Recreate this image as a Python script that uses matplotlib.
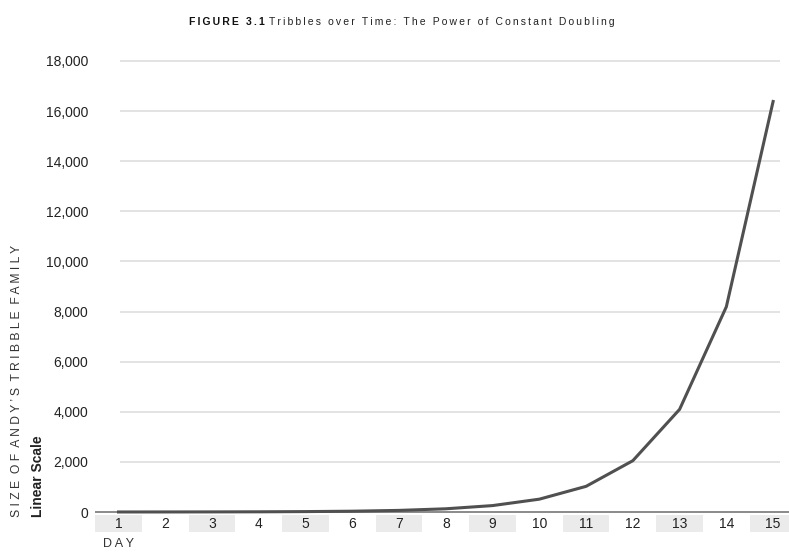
import matplotlib
matplotlib.use("Agg")
import matplotlib.pyplot as plt
import matplotlib.transforms as mtransforms
from matplotlib.patches import Rectangle

# tribbles doubling each day
days = [1, 2, 3, 4, 5, 6, 7, 8, 9, 10, 11, 12, 13, 14, 15]
tribbles = [1, 2, 4, 8, 16, 32, 64, 128, 256, 512, 1024, 2048, 4096, 8192, 16384]
yticks = [0, 2000, 4000, 6000, 8000, 10000, 12000, 14000, 16000, 18000]
ytick_labels = ['0', '2,000', '4,000', '6,000', '8,000', '10,000', '12,000',
                '14,000', '16,000', '18,000']

W, H = 789, 552
fig = plt.figure(figsize=(W / 100, H / 100), dpi=100)

# axes: left edge at x=95px, zero line at y=512px, 18,000 at y=61px
ax = fig.add_axes([95 / W, (H - 512) / H, (W - 95) / W, (512 - 61) / H])
ax.set_xlim(0.497, 15.34)
ax.set_ylim(0, 18000)

lab_font = 'Liberation Sans'

# light grid lines
for v in yticks[1:]:
    ax.plot([1.03, 15.15], [v, v], color='#e3e3e3', lw=1.4, zorder=1,
            clip_on=False, solid_capstyle='butt')

# baseline
ax.plot([0.497, 15.34], [0, 0], color='#8a8a8a', lw=1.4, zorder=2,
        clip_on=False, solid_capstyle='butt')

ax.plot(days, tribbles, color='#505050', lw=2.2, zorder=3, clip_on=False)

for s in ax.spines.values():
    s.set_visible(False)
ax.set_xticks([])
ax.set_yticks(yticks)
ax.set_yticklabels(ytick_labels, family=lab_font, fontsize=10, color='#222222')
ax.tick_params(axis='y', length=0, pad=5)

# day boxes under the axis
trans = mtransforms.blended_transform_factory(ax.transData, ax.transAxes)
box_top = -3 / 451
box_h = 17 / 451
for d in days:
    if d % 2 == 1:
        ax.add_patch(Rectangle((d - 0.5, box_top - box_h), 1.0, box_h,
                               transform=trans, facecolor='#ebebeb',
                               edgecolor='none', clip_on=False, zorder=0))
    ax.text(d, box_top - box_h / 2, str(d), transform=trans, ha='center',
            va='center', family=lab_font, fontsize=10, color='#222222')

ax.text(1, -32 / 451, 'D A Y', transform=trans, ha='center', va='center',
        family='Liberation Sans', fontsize=9, color='#333333')

# axis titles
fig.text(17 / W, (H - 517) / H, 'S I Z E  O F  A N D Y ’ S  T R I B B L E  F A M I L Y',
         rotation=90, ha='center', va='bottom', family='Liberation Sans',
         fontsize=8.7, color='#333333')
fig.text(38 / W, (H - 517) / H, 'Linear Scale', rotation=90, ha='center',
         va='bottom', family=lab_font, fontsize=10, fontweight='bold',
         color='#222222')

# figure title, letter spaced
ts = '\u2009'
fig.text(265 / W, 1 - 22 / H, ts.join('FIGURE 3.1'), ha='right', va='center',
         family='Liberation Sans', fontsize=7.5, fontweight='bold', color='#111111')
fig.text(269 / W, 1 - 22 / H, ts.join('Tribbles over Time: The Power of Constant Doubling'),
         ha='left', va='center', family='Liberation Sans', fontsize=7.5,
         color='#222222')

fig.savefig('out.png', dpi=100)
